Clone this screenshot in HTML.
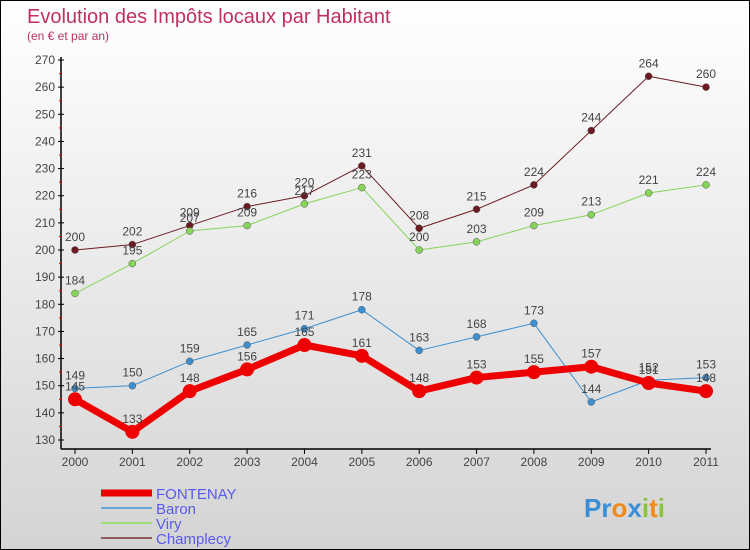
<!DOCTYPE html>
<html><head><meta charset="utf-8"><style>
html,body{margin:0;padding:0}
body{width:750px;height:550px;overflow:hidden;font-family:"Liberation Sans",sans-serif}
#wrap{position:relative;width:748px;height:548px;border:1px solid #000;background:linear-gradient(#ffffff,#d4d4d4)}
</style></head><body>
<div id="wrap">
<svg id="svg" width="748" height="548" style="position:absolute;left:0;top:0">
<text x="26" y="22" font-size="20" fill="#c0305e">Evolution des Impôts locaux par Habitant</text>
<text x="26" y="39" font-size="12" fill="#c0305e">(en € et par an)</text>
<g id="axes"></g><g id="series"></g><g id="legend"></g>
<text x="583" y="516" font-size="26" font-weight="bold"><tspan fill="#3a8ed8">Pr</tspan><tspan fill="#f08a1c">o</tspan><tspan fill="#3a8ed8">x</tspan><tspan fill="#8ac43f">i</tspan><tspan fill="#f08a1c">t</tspan><tspan fill="#8ac43f">i</tspan></text>
</svg>
</div>
<script>
const years=[2000,2001,2002,2003,2004,2005,2006,2007,2008,2009,2010,2011];
const yTicks=[130,140,150,160,170,180,190,200,210,220,230,240,250,260,270];
const fontenay=[145,133,148,156,165,161,148,153,155,157,151,148];
const baron=[149,150,159,165,171,178,163,168,173,144,152,153];
const viry=[184,195,207,209,217,223,200,203,209,213,221,224];
const champlecy=[200,202,209,216,220,231,208,215,224,244,264,260];
const NS="http://www.w3.org/2000/svg";
function xs(i){return 74+i*(705-74)/(years.length-1);}
function ys(v){return 439-(v-130)*(439-59)/140;}
function mk(tag,attrs,parent){const e=document.createElementNS(NS,tag);for(const k in attrs)e.setAttribute(k,attrs[k]);parent.appendChild(e);return e;}
const ax=document.getElementById('axes');
let e=mk('line',{x1:60,y1:56,x2:60,y2:448,stroke:'#000','stroke-width':1.5},ax);


e=mk('line',{x1:60,y1:448,x2:710,y2:448,stroke:'#000','stroke-width':1.5},ax);


yTicks.forEach((t,i)=>{const y=ys(t);
 mk('line',{x1:57,y1:y,x2:63,y2:y,stroke:'#000'},ax);
 if(i<yTicks.length-1)mk('line',{x1:58,y1:y-13.5,x2:61,y2:y-13.5,stroke:'#e00'},ax);
 const tx=mk('text',{x:54,y:y+4,'text-anchor':'end','font-size':12,fill:'#444'},ax);tx.textContent=t;
 
 });
years.forEach((yr,i)=>{const x=xs(i);
 mk('line',{x1:x,y1:448,x2:x,y2:453,stroke:'#000'},ax);
 const tx=mk('text',{x:x,y:465,'text-anchor':'middle','font-size':12,fill:'#444'},ax);tx.textContent=yr;
 
 });
const sg=document.getElementById('series');
const series=[
 {name:'champlecy',data:champlecy,color:'#6b1a22',w:1,r:3.5},
 {name:'viry',data:viry,color:'#86d45a',w:1,r:3.5},
 {name:'baron',data:baron,color:'#3d8fd0',w:1,r:3.5},
 {name:'fontenay',data:fontenay,color:'#ee0000',w:7,r:7}];
series.forEach(s=>{
 const g=mk('g',{},sg);
 
 
 const pts=s.data.map((v,i)=>xs(i)+','+ys(v)).join(' ');
 mk('polyline',{points:pts,fill:'none',stroke:s.color,'stroke-width':s.w,'stroke-linejoin':'round'},g);
 s.data.forEach((v,i)=>{
  const c=mk('circle',{cx:xs(i),cy:ys(v),r:s.r,fill:s.color,stroke:s.w>1?s.color:'#555','stroke-width':s.w>1?0:0.5},g);
  
  
  const t=mk('text',{x:xs(i),y:ys(v)-9,'text-anchor':'middle','font-size':12,fill:'#444'},g);t.textContent=v;
  
  
 });
});
const lg=document.getElementById('legend');
const legend=[['FONTENAY','#ee0000',7],['Baron','#6aa6d6',2],['Viry','#9edc7a',2],['Champlecy','#8f5a5a',2]];
legend.forEach((l,i)=>{const y=492+i*15;
 const g=mk('g',{},lg);
 
 
 mk('line',{x1:100,y1:y,x2:151,y2:y,stroke:l[1],'stroke-width':l[2]},g);
 const t=mk('text',{x:155,y:y+6,'font-size':15,fill:'#5a5aee'},g);t.textContent=l[0];
});
</script>
</body></html>
